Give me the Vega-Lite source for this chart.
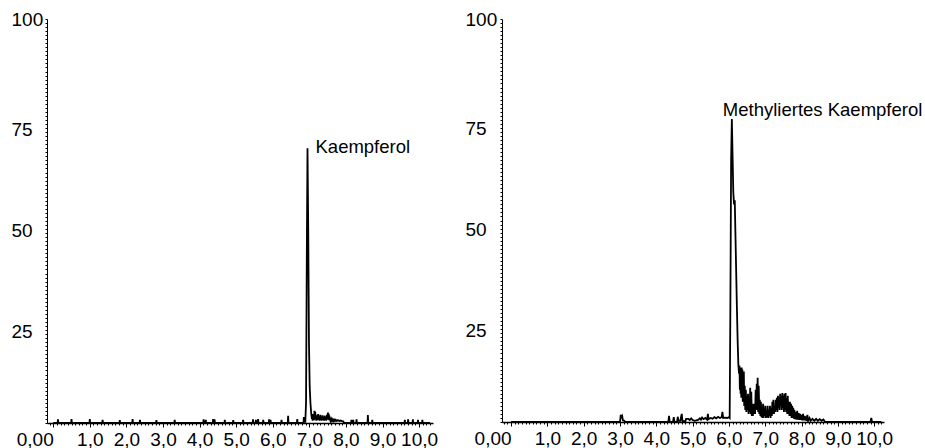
{
  "$schema": "https://vega.github.io/schema/vega-lite/v6.json",
  "background": "white",
  "padding": {"left": 11, "top": 10, "right": 5, "bottom": 5},
  "spacing": 27,
  "config": {
    "view": {"stroke": null},
    "font": "Liberation Sans",
    "axis": {
      "domainColor": "black", "tickColor": "black", "labelColor": "black",
      "labelFont": "Liberation Sans", "labelFontSize": 19, "grid": false,
      "title": null, "labelOverlap": false, "labelFlush": false, "labelBound": false
    }
  },
  "datasets": {
    "kaempferol": [
      {"t":0,"i":0},{"t":0.12,"i":0},{"t":0.13,"i":0.9},{"t":0.14,"i":0},
      {"t":0.49,"i":0},{"t":0.5,"i":1},{"t":0.51,"i":0},
      {"t":0.99,"i":0},{"t":1.0,"i":1},{"t":1.01,"i":0},
      {"t":1.34,"i":0},{"t":1.35,"i":0.8},{"t":1.36,"i":0},
      {"t":1.81,"i":0},{"t":1.82,"i":0.7},{"t":1.83,"i":0},
      {"t":2.16,"i":0},{"t":2.17,"i":1},{"t":2.18,"i":0},
      {"t":2.36,"i":0},{"t":2.37,"i":0.8},{"t":2.38,"i":0},
      {"t":2.81,"i":0},{"t":2.82,"i":0.7},{"t":2.83,"i":0},
      {"t":3.31,"i":0},{"t":3.32,"i":0.8},{"t":3.33,"i":0},
      {"t":4.1,"i":0},{"t":4.11,"i":0.9},{"t":4.12,"i":0},
      {"t":4.16,"i":0},{"t":4.17,"i":0.8},{"t":4.18,"i":0},
      {"t":4.36,"i":0},{"t":4.37,"i":1},{"t":4.38,"i":0},
      {"t":4.4,"i":0},{"t":4.41,"i":0.9},{"t":4.42,"i":0},
      {"t":4.68,"i":0},{"t":4.69,"i":0.8},{"t":4.7,"i":0},
      {"t":4.91,"i":0},{"t":4.92,"i":0.7},{"t":4.93,"i":0},
      {"t":5.18,"i":0},{"t":5.19,"i":0.8},{"t":5.2,"i":0},
      {"t":5.45,"i":0},{"t":5.46,"i":0.9},{"t":5.47,"i":0},
      {"t":5.53,"i":0},{"t":5.54,"i":0.8},{"t":5.55,"i":0},
      {"t":5.59,"i":0},{"t":5.6,"i":1},{"t":5.61,"i":0},
      {"t":5.73,"i":0},{"t":5.74,"i":0.8},{"t":5.75,"i":0},
      {"t":5.89,"i":0},{"t":5.9,"i":0.9},{"t":5.91,"i":0},
      {"t":5.93,"i":0},{"t":5.94,"i":0.8},{"t":5.95,"i":0},
      {"t":6.23,"i":0},{"t":6.24,"i":0.8},{"t":6.25,"i":0},
      {"t":6.41,"i":0},{"t":6.42,"i":1.8},{"t":6.43,"i":0},
      {"t":6.66,"i":0},{"t":6.67,"i":1},{"t":6.68,"i":0},
      {"t":6.84,"i":0},{"t":6.85,"i":1.5},{"t":6.86,"i":0.3},{"t":6.89,"i":0.3},
      {"t":6.91,"i":5},{"t":6.93,"i":40},{"t":6.95,"i":68},{"t":6.97,"i":48},
      {"t":6.99,"i":20},{"t":7.01,"i":9},{"t":7.03,"i":5},{"t":7.05,"i":2.5},
      {"t":7.07,"i":1},{"t":7.08,"i":2},{"t":7.09,"i":0.6},{"t":7.1,"i":2.2},
      {"t":7.11,"i":0.8},{"t":7.12,"i":1.8},{"t":7.13,"i":0.7},{"t":7.14,"i":3},
      {"t":7.15,"i":1},{"t":7.16,"i":2.8},{"t":7.17,"i":0.9},{"t":7.18,"i":2},
      {"t":7.19,"i":0.6},{"t":7.21,"i":1.8},{"t":7.22,"i":0.7},{"t":7.24,"i":2.2},
      {"t":7.25,"i":0.8},{"t":7.27,"i":1.6},{"t":7.28,"i":0.6},{"t":7.3,"i":2},
      {"t":7.31,"i":0.7},{"t":7.33,"i":1.5},{"t":7.34,"i":0.6},{"t":7.36,"i":1.9},
      {"t":7.37,"i":0.8},{"t":7.39,"i":1.4},{"t":7.4,"i":0.6},{"t":7.42,"i":1.8},
      {"t":7.43,"i":0.7},{"t":7.45,"i":1.5},{"t":7.46,"i":0.6},{"t":7.48,"i":2},
      {"t":7.49,"i":0.8},{"t":7.51,"i":2.6},{"t":7.52,"i":0.9},{"t":7.53,"i":2.3},
      {"t":7.54,"i":0.7},{"t":7.56,"i":1.2},{"t":7.58,"i":0.5},{"t":7.6,"i":1},
      {"t":7.62,"i":0.5},{"t":7.64,"i":0.9},{"t":7.66,"i":0.5},{"t":7.68,"i":0.8},
      {"t":7.7,"i":0.5},{"t":7.72,"i":0.8},{"t":7.75,"i":0.5},{"t":7.78,"i":0.7},
      {"t":7.82,"i":0.5},{"t":7.86,"i":0.6},{"t":7.9,"i":0.4},{"t":7.93,"i":0.4},
      {"t":7.95,"i":0},
      {"t":8.14,"i":0},{"t":8.15,"i":0.8},{"t":8.16,"i":0},
      {"t":8.19,"i":0},{"t":8.2,"i":0.8},{"t":8.21,"i":0},
      {"t":8.28,"i":0},{"t":8.29,"i":0.9},{"t":8.3,"i":0},
      {"t":8.59,"i":0},{"t":8.6,"i":2},{"t":8.61,"i":0},
      {"t":8.71,"i":0},{"t":8.72,"i":0.8},{"t":8.73,"i":0},
      {"t":9.6,"i":0},{"t":9.61,"i":0.8},{"t":9.62,"i":0},
      {"t":9.69,"i":0},{"t":9.7,"i":0.9},{"t":9.71,"i":0},
      {"t":9.82,"i":0},{"t":9.83,"i":0.9},{"t":9.84,"i":0},
      {"t":9.96,"i":0},{"t":9.97,"i":0.8},{"t":9.98,"i":0},
      {"t":10.08,"i":0},{"t":10.09,"i":0.8},{"t":10.1,"i":0},
      {"t":10.3,"i":0}
    ],
    "methyl": [
      {"t":0,"i":0},{"t":3.0,"i":0},{"t":3.02,"i":1.8},{"t":3.04,"i":1.2},{"t":3.06,"i":1.5},
      {"t":3.08,"i":0.4},{"t":3.12,"i":0.3},{"t":3.14,"i":0},
      {"t":4.33,"i":0},{"t":4.35,"i":1.5},{"t":4.37,"i":0},
      {"t":4.46,"i":0},{"t":4.48,"i":1.2},{"t":4.5,"i":0},
      {"t":4.57,"i":0},{"t":4.59,"i":1.3},{"t":4.61,"i":0.3},{"t":4.66,"i":0.3},
      {"t":4.7,"i":2},{"t":4.72,"i":0.2},{"t":4.8,"i":0.2},{"t":4.82,"i":0.8},
      {"t":4.88,"i":0.8},{"t":4.92,"i":0.5},{"t":4.96,"i":0.9},{"t":5.0,"i":0.5},
      {"t":5.05,"i":0.3},{"t":5.15,"i":0.5},{"t":5.2,"i":0.9},{"t":5.23,"i":0.6},
      {"t":5.26,"i":1.1},{"t":5.3,"i":0.7},{"t":5.35,"i":1},{"t":5.4,"i":0.6},
      {"t":5.42,"i":2},{"t":5.44,"i":0.7},{"t":5.5,"i":1},{"t":5.55,"i":0.8},
      {"t":5.6,"i":1.2},{"t":5.65,"i":0.9},{"t":5.7,"i":1.3},{"t":5.75,"i":1},
      {"t":5.8,"i":1.2},{"t":5.82,"i":2.5},{"t":5.84,"i":1},{"t":5.9,"i":1.1},
      {"t":5.95,"i":1},{"t":6.0,"i":1.2},{"t":6.02,"i":1},
      {"t":6.04,"i":30},{"t":6.06,"i":65},{"t":6.08,"i":75.2},{"t":6.1,"i":66},
      {"t":6.12,"i":57},{"t":6.14,"i":54},{"t":6.16,"i":55},{"t":6.18,"i":46},
      {"t":6.2,"i":37},{"t":6.22,"i":28},{"t":6.24,"i":20},{"t":6.26,"i":14},
      {"t":6.28,"i":12},{"t":6.29,"i":14},{"t":6.3,"i":8},{"t":6.31,"i":13.5},
      {"t":6.32,"i":7},{"t":6.33,"i":13},{"t":6.34,"i":6},{"t":6.35,"i":13.5},
      {"t":6.36,"i":6},{"t":6.37,"i":13},{"t":6.38,"i":5},{"t":6.39,"i":12},
      {"t":6.4,"i":5},{"t":6.41,"i":12.5},
      {"t":6.42,"i":4},{"t":6.435,"i":9},{"t":6.45,"i":3},{"t":6.465,"i":8},
      {"t":6.48,"i":2.5},{"t":6.495,"i":6.5},{"t":6.51,"i":3},{"t":6.525,"i":7},
      {"t":6.54,"i":2},{"t":6.555,"i":5.5},{"t":6.57,"i":2.5},{"t":6.585,"i":8.5},
      {"t":6.6,"i":2},{"t":6.615,"i":7.5},{"t":6.63,"i":1.5},{"t":6.645,"i":4},
      {"t":6.66,"i":1.5},{"t":6.675,"i":4.5},{"t":6.69,"i":2},{"t":6.705,"i":3.5},
      {"t":6.72,"i":2},{"t":6.735,"i":8},{"t":6.75,"i":3},{"t":6.765,"i":9.5},
      {"t":6.78,"i":3},{"t":6.79,"i":11},{"t":6.805,"i":2.5},{"t":6.82,"i":9},
      {"t":6.835,"i":2},{"t":6.85,"i":5.5},{"t":6.865,"i":1.5},{"t":6.88,"i":5},
      {"t":6.895,"i":1.2},{"t":6.91,"i":3.5},{"t":6.925,"i":1},{"t":6.94,"i":4.5},
      {"t":6.955,"i":1},{"t":6.97,"i":3},{"t":6.985,"i":1.5},{"t":7.0,"i":4},
      {"t":7.02,"i":1},{"t":7.035,"i":2.5},{"t":7.05,"i":1.2},{"t":7.065,"i":4},
      {"t":7.08,"i":1},{"t":7.1,"i":3},{"t":7.115,"i":1.5},{"t":7.13,"i":4},
      {"t":7.145,"i":1},{"t":7.16,"i":3.5},{"t":7.18,"i":1.5},{"t":7.195,"i":5},
      {"t":7.21,"i":2},{"t":7.225,"i":5.5},{"t":7.24,"i":2},{"t":7.26,"i":4},
      {"t":7.275,"i":2.5},{"t":7.29,"i":5.5},{"t":7.305,"i":3},{"t":7.32,"i":6},
      {"t":7.335,"i":2.5},{"t":7.35,"i":6.5},{"t":7.365,"i":3.5},{"t":7.38,"i":6},
      {"t":7.395,"i":3},{"t":7.41,"i":7},{"t":7.425,"i":4},{"t":7.44,"i":6.5},
      {"t":7.455,"i":3},{"t":7.47,"i":7.2},{"t":7.485,"i":3.5},{"t":7.5,"i":6.5},
      {"t":7.515,"i":2.5},{"t":7.53,"i":7},{"t":7.545,"i":3},{"t":7.56,"i":7.2},
      {"t":7.575,"i":2.5},{"t":7.59,"i":6},{"t":7.605,"i":2},{"t":7.62,"i":6.5},
      {"t":7.635,"i":2},{"t":7.65,"i":5},{"t":7.665,"i":1.5},{"t":7.68,"i":5},
      {"t":7.695,"i":1.5},{"t":7.71,"i":4.5},{"t":7.725,"i":1},{"t":7.74,"i":4},
      {"t":7.755,"i":1},{"t":7.77,"i":3.5},{"t":7.785,"i":0.8},{"t":7.8,"i":3},
      {"t":7.82,"i":0.7},{"t":7.84,"i":2.5},{"t":7.86,"i":0.6},{"t":7.88,"i":2.8},
      {"t":7.9,"i":0.6},{"t":7.92,"i":2.2},{"t":7.94,"i":0.5},{"t":7.96,"i":2},
      {"t":7.98,"i":0.5},{"t":8.0,"i":1.8},{"t":8.02,"i":0.4},{"t":8.04,"i":2},
      {"t":8.06,"i":0.4},{"t":8.08,"i":1.5},{"t":8.1,"i":0.4},{"t":8.12,"i":1.4},
      {"t":8.14,"i":0.3},{"t":8.16,"i":1.8},{"t":8.18,"i":0.3},{"t":8.22,"i":1},
      {"t":8.25,"i":0.3},{"t":8.3,"i":0.8},{"t":8.35,"i":0.3},{"t":8.4,"i":0.8},
      {"t":8.45,"i":0.3},{"t":8.5,"i":0.7},{"t":8.55,"i":0.3},{"t":8.6,"i":0.6},
      {"t":8.65,"i":0},
      {"t":9.9,"i":0},{"t":9.92,"i":1},{"t":9.94,"i":0},{"t":10.2,"i":0}
    ]
  },
  "hconcat": [
    {
      "width": 386,
      "height": 404,
      "layer": [
        {
          "data": {"name": "kaempferol"},
          "mark": {"type": "line", "color": "black", "strokeWidth": 1.8, "clip": true},
          "encoding": {
            "x": {"field": "t", "type": "quantitative", "scale": {"domain": [-0.17, 10.38], "nice": false, "zero": false},
              "axis": {"tickCount": 105, "tickSize": {"condition": {"test": "abs(datum.value - round(datum.value)) < 1e-6", "value": 4}, "value": 2}, "labelPadding": 3, "domainWidth": 1.5,
                "labelAlign": {"condition": {"test": "datum.value === 0", "value": "right"}, "value": "center"},
                "labelExpr": "datum.value === 0 ? '0,00' : (abs(datum.value - round(datum.value)) < 1e-6 ? replace(format(datum.value, '.1f'), '.', ',') : '')"}},
            "y": {"field": "i", "type": "quantitative", "scale": {"domain": [0, 100], "nice": false},
              "axis": {"tickCount": 100, "tickSize": 2, "labelAlign": "left", "labelPadding": 34,
                "labelBaseline": {"condition": {"test": "datum.value === 100", "value": "middle"}, "value": "top"},
                "labelExpr": "(datum.value > 0 && datum.value % 25 === 0) ? datum.label : ''"}}
          }
        },
        {
          "data": {"values": [{"t": 6.95, "i": 68, "name": "Kaempferol"}]},
          "mark": {"type": "text", "align": "left", "baseline": "alphabetic", "dx": 8, "dy": 5, "fontSize": 18.5, "font": "Liberation Sans", "color": "black"},
          "encoding": {
            "x": {"field": "t", "type": "quantitative"},
            "y": {"field": "i", "type": "quantitative"},
            "text": {"field": "name"}
          }
        }
      ]
    },
    {
      "width": 382,
      "height": 403,
      "layer": [
        {
          "data": {"name": "methyl"},
          "mark": {"type": "line", "color": "black", "strokeWidth": 1.8, "clip": true},
          "encoding": {
            "x": {"field": "t", "type": "quantitative", "scale": {"domain": [-0.25, 10.27], "nice": false, "zero": false},
              "axis": {"tickCount": 105, "tickSize": {"condition": {"test": "abs(datum.value - round(datum.value)) < 1e-6", "value": 4}, "value": 2}, "labelPadding": 3, "domainWidth": 1.5,
                "labelAlign": {"condition": {"test": "datum.value === 0", "value": "right"}, "value": "center"},
                "labelExpr": "datum.value === 0 ? '0,00' : (abs(datum.value - round(datum.value)) < 1e-6 ? replace(format(datum.value, '.1f'), '.', ',') : '')"}},
            "y": {"field": "i", "type": "quantitative", "scale": {"domain": [0, 100], "nice": false},
              "axis": {"tickCount": 100, "tickSize": 2, "labelAlign": "left", "labelPadding": 35,
                "labelBaseline": {"condition": {"test": "datum.value === 100", "value": "middle"}, "value": "top"},
                "labelExpr": "(datum.value > 0 && datum.value % 25 === 0) ? datum.label : ''"}}
          }
        },
        {
          "data": {"values": [{"t": 6.08, "i": 75.2, "name": "Methyliertes Kaempferol"}]},
          "mark": {"type": "text", "align": "left", "baseline": "alphabetic", "dx": -9, "dy": -3, "fontSize": 18.5, "font": "Liberation Sans", "color": "black"},
          "encoding": {
            "x": {"field": "t", "type": "quantitative"},
            "y": {"field": "i", "type": "quantitative"},
            "text": {"field": "name"}
          }
        }
      ]
    }
  ]
}
